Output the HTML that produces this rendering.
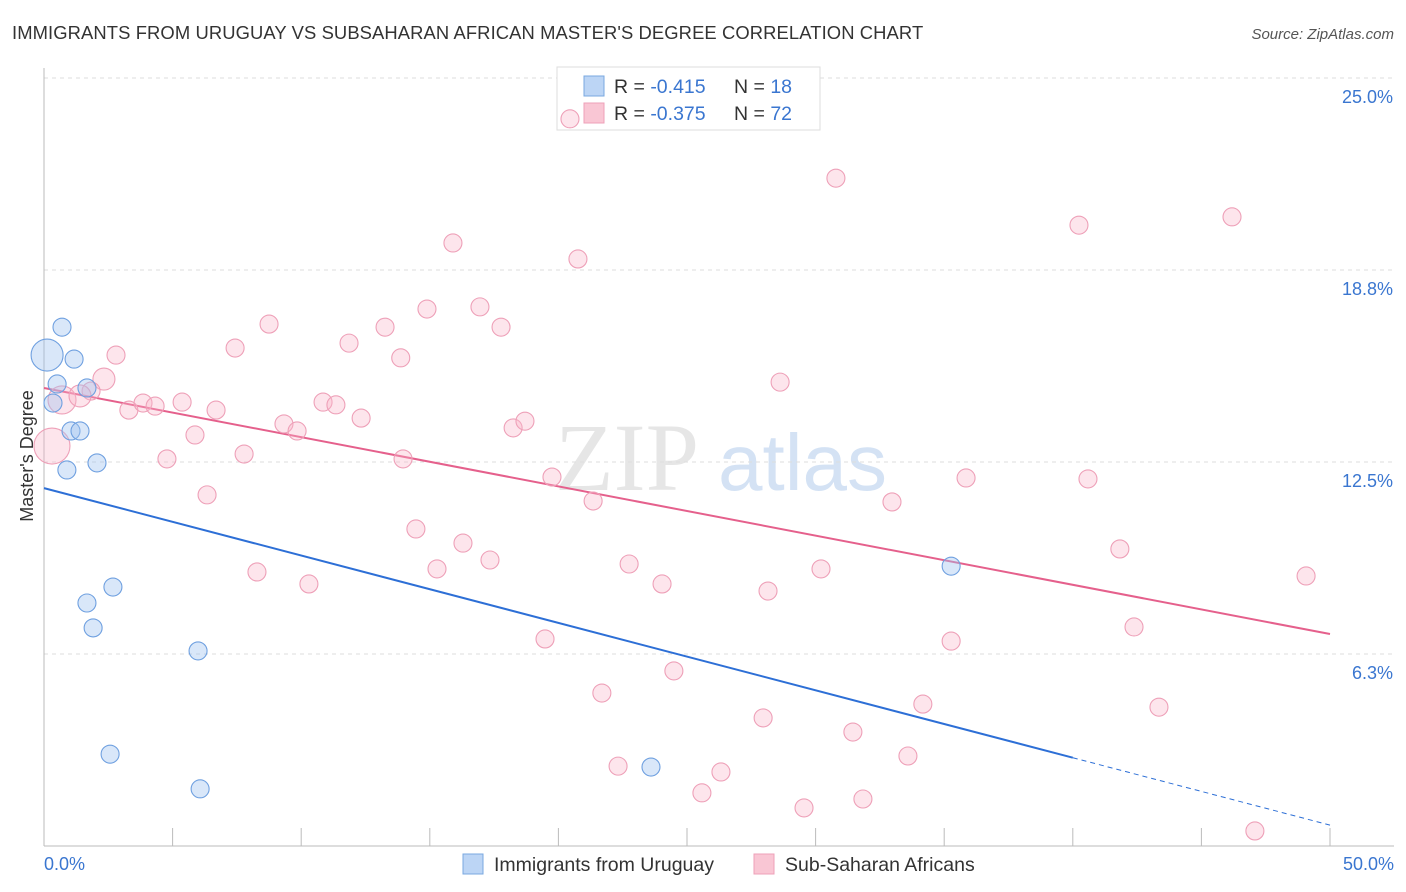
<!DOCTYPE html>
<html><head><meta charset="utf-8"><style>
body{margin:0;background:#fff;font-family:"Liberation Sans",sans-serif}
svg{display:block}
</style></head><body>
<svg id="chart" width="1406" height="892" viewBox="0 0 1406 892">
<text x="12" y="39" font-size="18.4" fill="#333" letter-spacing="0.1">IMMIGRANTS FROM URUGUAY VS SUBSAHARAN AFRICAN MASTER'S DEGREE CORRELATION CHART</text>
<text x="1394" y="39" font-size="15" fill="#555" font-style="italic" text-anchor="end">Source: ZipAtlas.com</text>
<g>
<text x="555" y="490" font-size="96" font-family="Liberation Serif,serif" fill="#d6d6d6" opacity="0.6">ZIP</text>
<text x="718" y="490" font-size="80" fill="#b8d0ee" opacity="0.6">atlas</text>
</g>
<g id="grid"></g>
<g id="axes"></g>
<g>
<rect x="557" y="67" width="263" height="63" fill="#fff" stroke="#ddd"/>
<rect x="584" y="76" width="20" height="20" fill="#bcd5f5" stroke="#7aa8e0"/>
<rect x="584" y="103" width="20" height="20" fill="#f9c6d4" stroke="#eea0b8"/>
<text x="614" y="93" font-size="19.5" fill="#333">R = <tspan fill="#3a76d0">-0.415</tspan><tspan x="734">N = </tspan><tspan fill="#3a76d0">18</tspan></text>
<text x="614" y="120" font-size="19.5" fill="#333">R = <tspan fill="#3a76d0">-0.375</tspan><tspan x="734">N = </tspan><tspan fill="#3a76d0">72</tspan></text>
</g>
<g id="trends"></g>
<g id="points"></g>
<text x="33" y="456" font-size="18" fill="#333" text-anchor="middle" transform="rotate(-90 33 456)">Master's Degree</text>
<g>
<rect x="463" y="854" width="20" height="20" fill="#bcd5f5" stroke="#7aa8e0"/>
<text x="494" y="871" font-size="19.5" fill="#333">Immigrants from Uruguay</text>
<rect x="754" y="854" width="20" height="20" fill="#f9c6d4" stroke="#eea0b8"/>
<text x="785" y="871" font-size="19.5" fill="#333">Sub-Saharan Africans</text>
</g>
</svg>
<script>
const yTicks=[25,18.75,12.5,6.25];
const yTickLabels=["25.0%","18.8%","12.5%","6.3%"];
const xTickCount=10;
const xLabels=["0.0%","50.0%"];
const blueX=[0.70,0.12,1.17,0.51,0.35,1.67,1.05,1.40,0.89,2.06,2.68,1.67,1.91,5.99,2.57,6.07,23.60,35.27];
const blueY=[16.89,15.98,15.85,15.04,14.42,14.91,13.51,13.51,12.24,12.47,8.43,7.91,7.10,6.35,2.99,1.86,2.57,9.11];
const blueR=[9,16,9,9,9,9,9,9,9,9,9,9,9,9,9,9,9,9];
const pinkX=[20.45,30.79,40.24,46.19,15.90,20.76,8.75,14.89,16.95,17.77,13.26,7.43,11.86,13.87,2.80,2.33,1.83,0.70,1.40,3.30,3.85,4.32,5.37,6.69,10.85,11.35,12.33,9.33,9.84,5.87,0.31,7.78,4.78,13.96,18.24,18.70,28.62,6.34,19.75,21.35,35.85,40.59,32.97,14.46,16.29,17.34,15.28,22.75,8.28,10.30,24.03,28.15,30.21,41.83,49.07,42.38,19.48,35.27,24.49,21.69,34.17,43.35,27.96,31.45,33.59,22.32,26.32,25.58,29.55,31.84,47.08];
const pinkY=[23.67,21.74,20.21,20.48,19.63,19.11,16.99,17.48,17.55,16.89,16.89,16.21,16.37,15.89,15.98,15.20,14.81,14.52,14.65,14.19,14.42,14.32,14.45,14.19,14.45,14.36,13.93,13.74,13.51,13.38,13.02,12.76,12.60,12.60,13.61,13.83,15.10,11.43,12.01,11.23,11.98,11.95,11.20,10.32,9.86,9.31,9.02,9.18,8.92,8.53,8.53,8.30,9.02,9.67,8.79,7.13,6.74,6.67,5.70,4.98,4.62,4.52,4.17,3.71,2.93,2.60,2.41,1.73,1.24,1.53,0.49];
const pinkR={17:14,30:18,18:11,15:11};
const blueTrend=[11.65,0.68];
const blueSolidEnd=40;
const pinkTrend=[14.91,6.90];
const NS="http://www.w3.org/2000/svg";
const X0=44,X1=1330,Y0=846,PX=30.72;
function sx(v){return X0+(X1-X0)*v/50;}
function sy(v){return Y0-v*PX;}
function mk(t,a,p){const e=document.createElementNS(NS,t);for(const k in a)e.setAttribute(k,a[k]);p.appendChild(e);return e;}
const grid=document.getElementById('grid'),axes=document.getElementById('axes'),tr=document.getElementById('trends'),pts=document.getElementById('points');
yTicks.forEach((t,i)=>{
 const l=mk('line',{x1:X0,x2:1394,y1:sy(t),y2:sy(t),stroke:'#ddd','stroke-dasharray':'4,4'},grid);
 
 
 const tx=mk('text',{x:1393,y:sy(t)+25,'font-size':18,fill:'#3a76d0','text-anchor':'end'},axes);
 tx.textContent=yTickLabels[i];
 
 
});
mk('line',{x1:X0,x2:X0,y1:68,y2:Y0,stroke:'#bbb'},axes);
mk('line',{x1:X0,x2:1394,y1:Y0,y2:Y0,stroke:'#bbb'},axes);
for(let i=0;i<=xTickCount;i++){
 const x=sx(50*i/xTickCount);
 const t=mk('line',{x1:x,x2:x,y1:828,y2:Y0,stroke:'#bbb'},axes);
 
 
}
[[0,'start',44],[50,'end',1394]].forEach((d,i)=>{
 const t=mk('text',{x:d[2],y:870,'font-size':18,fill:'#3a76d0','text-anchor':d[1]},axes);
 t.textContent=xLabels[i];
 
 
});
function ty(tr2,x){return tr2[0]+(tr2[1]-tr2[0])*x/50;}
let l1=mk('line',{x1:sx(0),y1:sy(ty(blueTrend,0)),x2:sx(blueSolidEnd),y2:sy(ty(blueTrend,blueSolidEnd)),stroke:'#2d6fd6','stroke-width':2},tr);


let l2=mk('line',{x1:sx(blueSolidEnd),y1:sy(ty(blueTrend,blueSolidEnd)),x2:sx(50),y2:sy(ty(blueTrend,50)),stroke:'#2d6fd6','stroke-width':1,'stroke-dasharray':'5,4'},tr);


let l3=mk('line',{x1:sx(0),y1:sy(ty(pinkTrend,0)),x2:sx(50),y2:sy(ty(pinkTrend,50)),stroke:'#e5608c','stroke-width':2},tr);


pinkX.forEach((x,i)=>{
 const c=mk('circle',{cx:sx(x),cy:sy(pinkY[i]),r:pinkR[i]||9,fill:'rgba(248,180,200,0.35)',stroke:'#eea0b8','stroke-width':1.1},pts);
 
 
});
blueX.forEach((x,i)=>{
 const c=mk('circle',{cx:sx(x),cy:sy(blueY[i]),r:blueR[i],fill:'rgba(160,196,240,0.4)',stroke:'#6fa0e0','stroke-width':1.1},pts);
 
 
});
</script>
</body></html>
